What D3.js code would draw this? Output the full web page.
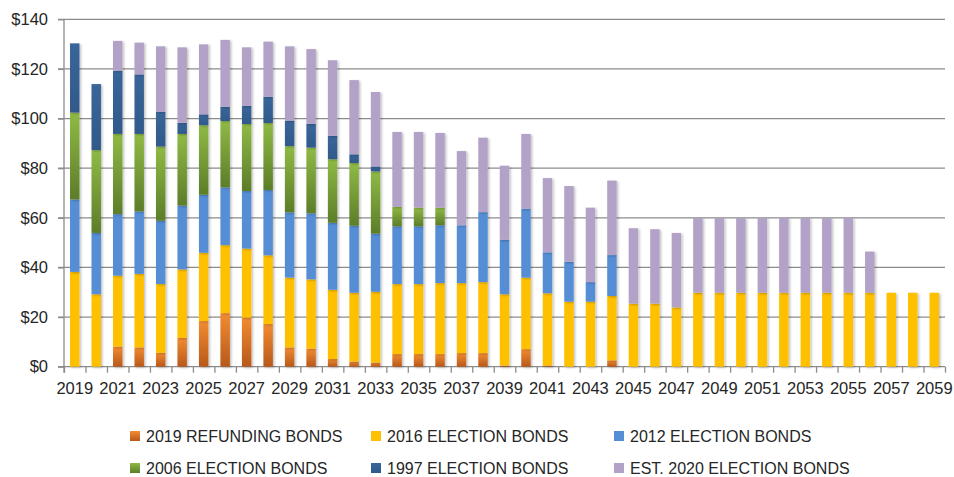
<!DOCTYPE html>
<html>
<head>
<meta charset="utf-8">
<script src="https://cdn.jsdelivr.net/npm/d3@7"></script>
<style>
  body { margin: 0; background: #fff; }
  svg { display: block; font-family: "Liberation Sans", Arial, sans-serif; }
  .axis text { fill: #262626; font-size: 16.5px; }
  .legend text { fill: #262626; font-size: 16px; }
</style>
</head>
<body>
<svg id="chart" width="954" height="477"></svg>
<script>
// Years on the x axis, one bar each.
var years = d3.range(2019, 2060);

// Series names, bottom of the stack first.
var seriesNames = [
  '2019 REFUNDING BONDS',
  '2016 ELECTION BONDS',
  '2012 ELECTION BONDS',
  '2006 ELECTION BONDS',
  '1997 ELECTION BONDS',
  'EST. 2020 ELECTION BONDS'
];

// Debt service per year, $ millions.
var refunding2019 = [0, 0, 8.1, 7.8, 5.6, 11.6, 18.4, 21.6, 19.8, 17.2, 7.8, 7.3, 3.1, 2.1, 1.7,
  5.1, 5.1, 5.1, 5.5, 5.5, 0.5, 7.1, 0.5, 0, 0, 2.6, 0, 0, 0, 0, 0, 0, 0, 0, 0, 0, 0, 0, 0, 0, 0];
var election2016 = [38.2, 29.2, 28.6, 29.6, 27.7, 27.6, 27.5, 27.4, 27.8, 27.7, 28.1, 27.9, 27.9, 27.7, 28.5,
  28.2, 28.2, 28.6, 28.2, 28.6, 28.7, 28.8, 29.1, 26.2, 26.2, 25.9, 25.4, 25.4, 23.9, 29.8, 29.8, 29.8, 29.8,
  29.8, 29.8, 29.8, 29.8, 29.8, 29.8, 29.8, 29.8];
var election2012 = [29.2, 24.7, 24.8, 25.2, 25.5, 25.7, 23.4, 23.3, 23.2, 26.3, 26.3, 26.6, 27.0, 27.0, 23.4,
  23.3, 23.3, 23.3, 23.3, 28.2, 21.9, 27.8, 16.5, 16.1, 7.9, 16.5, 0, 0, 0, 0, 0, 0, 0, 0, 0, 0, 0, 0, 0, 0, 0];
var election2006 = [35.0, 33.4, 32.3, 31.2, 29.9, 28.9, 28.0, 26.7, 27.0, 27.0, 26.7, 26.5, 25.6, 25.3, 25.1,
  7.8, 7.5, 7.1, 0, 0, 0, 0, 0, 0, 0, 0, 0, 0, 0, 0, 0, 0, 0, 0, 0, 0, 0, 0, 0, 0, 0];
var election1997 = [27.9, 26.6, 25.5, 24.0, 14.1, 4.5, 4.4, 5.8, 7.3, 10.6, 10.3, 9.6, 9.4, 3.5, 2.0,
  0, 0, 0, 0, 0, 0, 0, 0, 0, 0, 0, 0, 0, 0, 0, 0, 0, 0, 0, 0, 0, 0, 0, 0, 0, 0];
var est2020 = [0, 0, 12.0, 12.8, 26.3, 30.4, 28.2, 26.9, 23.6, 22.2, 29.9, 30.1, 30.5, 29.9, 30.0,
  30.2, 30.5, 30.1, 29.9, 30.0, 29.9, 30.1, 29.9, 30.5, 30.0, 30.0, 30.4, 30.0, 30.0, 30.1, 30.1, 30.1, 30.1,
  30.1, 30.1, 30.1, 30.1, 16.6, 0, 0, 0];

// Y axis ticks.
var yTicks = [0, 20, 40, 60, 80, 100, 120, 140];

// Fill for each series: [top colour, bottom colour] of a vertical gradient.
var seriesColors = [
  ['#f28c31', '#b8581b'],
  ['#ffc000', '#ffc000'],
  ['#558ed5', '#558ed5'],
  ['#8fba45', '#5c7d29'],
  ['#3a669a', '#30598a'],
  ['#b3a2c7', '#b3a2c7']
];

var seriesValues = [refunding2019, election2016, election2012, election2006, election1997, est2020];

// Build rows for d3.stack.
var rows = years.map(function(yr, i) {
  var row = { year: yr };
  seriesNames.forEach(function(name, s) { row[name] = seriesValues[s][i]; });
  return row;
});

var svg = d3.select('#chart');

// Plot area edges (window.top is taken, so prefix them).
var plotLeft = 64, plotRight = 945, plotTop = 19.3, plotBottom = 366.7;

var x = d3.scaleBand()
  .domain(years)
  .range([plotLeft, plotRight])
  .paddingInner(0.56)
  .paddingOuter(0.28);

// Linear index scale used only for the tick marks between bars.
var xEdge = d3.scaleLinear().domain([0, years.length]).range([plotLeft, plotRight]);

var y = d3.scaleLinear().domain([0, 140]).range([plotBottom, plotTop]);

// Gradients and a soft bar shadow.
var defs = svg.append('defs');
seriesColors.forEach(function(c, s) {
  var g = defs.append('linearGradient')
    .attr('id', 'grad' + s)
    .attr('x1', 0).attr('y1', 0).attr('x2', 0).attr('y2', 1);
  g.append('stop').attr('offset', '0%').attr('stop-color', c[0]);
  g.append('stop').attr('offset', '100%').attr('stop-color', c[1]);
});
defs.append('filter')
  .attr('id', 'shadow')
  .attr('x', '-50%').attr('y', '-10%').attr('width', '200%').attr('height', '120%')
  .append('feDropShadow')
  .attr('dx', 1.5).attr('dy', 1)
  .attr('stdDeviation', 0.8)
  .attr('flood-color', '#000')
  .attr('flood-opacity', 0.25);

// Horizontal gridlines, reaching a little left of the axis as ticks.
svg.append('g')
  .selectAll('line')
  .data(yTicks)
  .join('line')
  .attr('x1', plotLeft - 6)
  .attr('x2', plotRight)
  .attr('y1', function(d) { return y(d); })
  .attr('y2', function(d) { return y(d); })
  .attr('stroke', '#8c8c8c')
  .attr('stroke-width', 1.3);

// Stacked bars.
var stacked = d3.stack().keys(seriesNames)(rows);

svg.append('g')
  .selectAll('g')
  .data(stacked)
  .join('g')
  .attr('fill', function(d, s) { return 'url(#grad' + s + ')'; })
  .attr('filter', 'url(#shadow)')
  .selectAll('rect')
  .data(function(d) { return d.filter(function(p) { return p[1] - p[0] > 0; }); })
  .join('rect')
  .attr('x', function(d) { return x(d.data.year); })
  .attr('width', x.bandwidth())
  .attr('y', function(d) { return y(d[1]); })
  .attr('height', function(d) { return y(d[0]) - y(d[1]); });

// Y axis.
var yAxis = svg.append('g')
  .attr('class', 'axis')
  .attr('transform', 'translate(' + plotLeft + ',0)')
  .call(d3.axisLeft(y)
    .tickValues(yTicks)
    .tickSize(6)
    .tickPadding(10)
    .tickFormat(function(d) { return '$' + d; }));
yAxis.select('.domain').attr('stroke', '#8c8c8c').attr('stroke-width', 1.3)
  .attr('d', 'M0,' + plotTop + 'V' + (plotBottom + 6));
yAxis.selectAll('.tick line').attr('stroke', '#8c8c8c').attr('stroke-width', 1.3);
yAxis.selectAll('text').style('font-size', '16.5px');

// X axis tick marks between bars.
var xTickAxis = svg.append('g')
  .attr('transform', 'translate(0,' + plotBottom + ')')
  .call(d3.axisBottom(xEdge)
    .tickValues(d3.range(0, years.length + 1))
    .tickSize(6)
    .tickFormat(''));
xTickAxis.select('.domain').remove();
xTickAxis.selectAll('.tick line').attr('stroke', '#8c8c8c').attr('stroke-width', 1.3);

// X axis labels on every other year.
var xAxis = svg.append('g')
  .attr('class', 'axis')
  .attr('transform', 'translate(0,' + plotBottom + ')')
  .call(d3.axisBottom(x)
    .tickValues(years.filter(function(d) { return (d - 2019) % 2 === 0; }))
    .tickSize(0)
    .tickPadding(16));
xAxis.select('.domain').remove();

// Legend: three columns, two rows.
var legendCols = [128, 369, 612];
var legendRows = [436, 468];

var legend = svg.append('g')
  .attr('class', 'legend')
  .selectAll('g')
  .data(seriesNames)
  .join('g')
  .attr('transform', function(d, i) {
    return 'translate(' + legendCols[i % 3] + ',' + legendRows[Math.floor(i / 3)] + ')';
  });

legend.append('rect')
  .attr('x', 2)
  .attr('y', -5)
  .attr('width', 10)
  .attr('height', 10)
  .attr('fill', function(d, i) { return 'url(#grad' + i + ')'; });

legend.append('text')
  .attr('x', 18)
  .attr('dy', '0.36em')
  .text(function(d) { return d; });
</script>
</body>
</html>
